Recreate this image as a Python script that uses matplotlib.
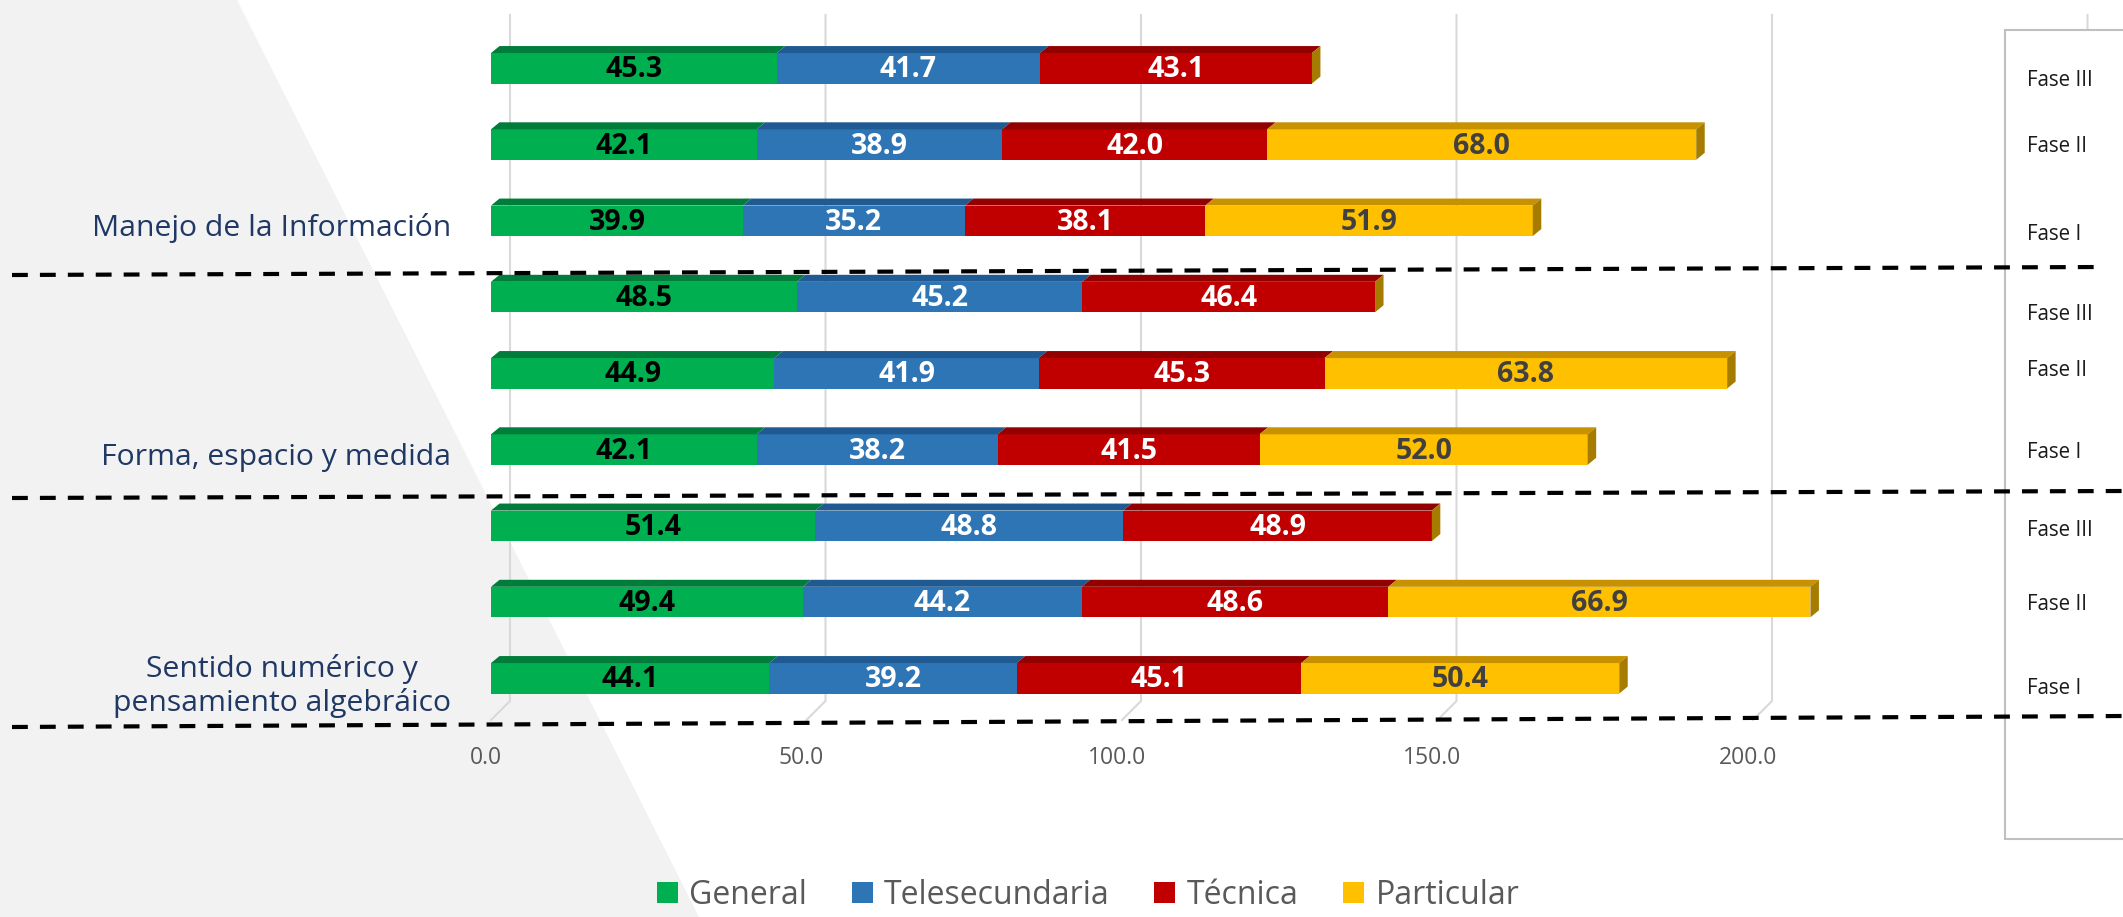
import matplotlib
matplotlib.use("Agg")
import numpy as np
import matplotlib.pyplot as plt
from matplotlib.patches import Patch, Rectangle, Polygon
from matplotlib.lines import Line2D

plt.rcParams['font.family'] = ['Open Sans', 'DejaVu Sans']

# === Data ===
groups = ["Manejo de la Información", "Forma, espacio y medida",
          "Sentido numérico y\npensamiento algebráico"]
fases = ["Fase III", "Fase II", "Fase I"]
series = ["General", "Telesecundaria", "Técnica", "Particular"]

# rows, top to bottom: (group, fase)
general = [45.3, 42.1, 39.9, 48.5, 44.9, 42.1, 51.4, 49.4, 44.1]
telesecundaria = [41.7, 38.9, 35.2, 45.2, 41.9, 38.2, 48.8, 44.2, 39.2]
tecnica = [43.1, 42.0, 38.1, 46.4, 45.3, 41.5, 48.9, 48.6, 45.1]
particular = [0.0, 68.0, 51.9, 0.0, 63.8, 52.0, 0.0, 66.9, 50.4]
xticks = [0, 50, 100, 150, 200, 250]

# === Styles ===
front = ["#00b050", "#2e75b6", "#c00000", "#ffc000"]
top = ["#007d3a", "#1f5a92", "#920000", "#c79100"]
side = "#a67c00"
lbl_col = ["#000000", "#ffffff", "#ffffff", "#404040"]

W, H = 2123, 917
X0, PPU = 491, 6.31          # px of front 0, px per unit
R0, RSTEP = 68.3, 76.25      # px of first row centre, row spacing
DX, DY = 8.5 / PPU, 7 / RSTEP  # 3d depth of bars
BAR_H = 30.5 / RSTEP
GX = 19 / PPU                # back wall offset


def ry(px):
    return (px - R0) / RSTEP


fig = plt.figure(figsize=(W / 100, H / 100), dpi=100)
ax = fig.add_axes([0, 0, 1, 1])
ax.set_xlim(-X0 / PPU, (W - X0) / PPU)
ax.set_ylim(ry(H), ry(0))
ax.axis("off")

# grey background wedge
ax.add_patch(Polygon([(0, 1), (237 / W, 1), (699 / W, 0), (0, 0)], closed=True,
                     transform=ax.transAxes, facecolor="#f2f2f2", edgecolor="none", zorder=0))

# back-wall grid lines with floor diagonals
for v in xticks:
    ax.plot([v + GX, v + GX, v], [ry(15), ry(701), ry(720)], color="#d9d9d9", lw=1.5, zorder=1)
    if v < 250:
        ax.text(v - 0.8, ry(758), f"{v:.1f}", ha="center", va="center",
                fontsize=16.5, color="#595959", zorder=2)

rows = np.arange(len(general))
data = np.array([general, telesecundaria, tecnica, particular])
lefts = np.zeros(len(rows))
for i, vals in enumerate(data):
    ax.barh(rows, vals, left=lefts, height=BAR_H, color=front[i], edgecolor="none", zorder=3)
    for r, (l, v) in enumerate(zip(lefts, vals)):
        if v <= 0:
            continue
        yt = r - BAR_H / 2
        ax.add_patch(Polygon([(l, yt), (l + v, yt), (l + v + DX, yt - DY), (l + DX, yt - DY)],
                             closed=True, facecolor=top[i], edgecolor="none", zorder=3))
        ax.text(l + v / 2, r + 0.02, f"{v:.1f}", ha="center", va="center",
                fontsize=20.5, fontweight="bold", color=lbl_col[i], zorder=5)
    lefts = lefts + vals

# right end faces
for r, t in enumerate(lefts):
    yt, yb = r - BAR_H / 2, r + BAR_H / 2
    ax.add_patch(Polygon([(t, yt), (t + DX, yt - DY), (t + DX, yb - DY), (t, yb)],
                         closed=True, facecolor=side, edgecolor="none", zorder=3))

# group labels
for g, name in enumerate(groups):
    ax.text(451 / PPU - X0 / PPU, 3 * g + 2 + 0.1, name, ha="right", va="center",
            multialignment="center", fontsize=21.7, color="#1f3864", zorder=4)

# box with phase labels on the right
fig.patches.append(Rectangle((2005 / W, 1 - 839 / H), 200 / W, 809 / H, transform=fig.transFigure,
                             facecolor="white", edgecolor="#bfbfbf", lw=1.5, zorder=6))
fase_px = [81, 146, 234, 314, 370, 452, 531, 604, 688]
for k, py in enumerate(fase_px):
    fig.text(2027 / W, 1 - py / H, fases[k % 3], ha="left", va="center",
             fontsize=14.8, color="#1a1a1a", zorder=7)

# dashed separators
for (x1, y1, x2, y2) in [(12, 275, 2102, 267), (12, 498, 2123, 491), (12, 727, 2123, 716)]:
    fig.lines.append(Line2D([x1 / W, x2 / W], [1 - y1 / H, 1 - y2 / H], transform=fig.transFigure,
                            color="black", lw=3.0, dashes=(3.8, 2.9), zorder=8))

handles = [Patch(facecolor=c, edgecolor="none") for c in front]
fig.legend(handles, series, loc="center", bbox_to_anchor=(1088 / W, 1 - 895 / H), ncol=4,
           frameon=False, fontsize=23, handlelength=0.66, handleheight=0.66,
           handletextpad=0.35, columnspacing=1.4, labelcolor="#595959",
           borderpad=0.1)

fig.savefig("out.png", dpi=100)
